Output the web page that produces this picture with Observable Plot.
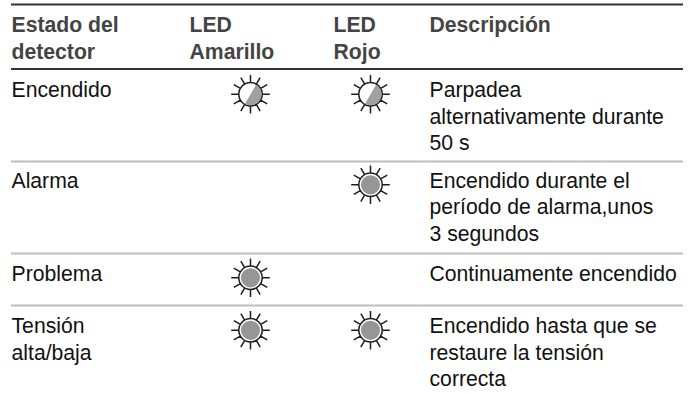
<!DOCTYPE html>
<html><head><meta charset="utf-8">
<script src="https://cdn.jsdelivr.net/npm/d3@7"></script>
<script src="https://cdn.jsdelivr.net/npm/@observablehq/plot@0.6"></script>
<style>html,body{margin:0;padding:0;background:#fff}svg{display:block}</style>
</head><body><div id="c"></div>
<script>
// content
const headerCol0 = ["Estado del", "detector"];
const headerCol1 = ["LED", "Amarillo"];
const headerCol2 = ["LED", "Rojo"];
const headerCol3 = ["Descripción"];
const states = [["Encendido"], ["Alarma"], ["Problema"], ["Tensión", "alta/baja"]];
const descriptions = [
  ["Parpadea", "alternativamente durante", "50 s"],
  ["Encendido durante el", "período de alarma,unos", "3 segundos"],
  ["Continuamente encendido"],
  ["Encendido hasta que se", "restaure la tensión", "correcta"]
];
const yellowLed = ["half", null, "full", "full"];
const redLed = ["half", "full", null, "full"];

// layout scales: named columns and text lines / rules, mapped piecewise
const colNames = ["state", "yellowHead", "yellowLed", "redHead", "redLed", "desc", "end"];
const colPixels = [11, 189, 250, 333, 370, 429, 683];
const rowNames = ["top", "h0", "h1", "headRule", "r0l0", "r0l1", "r0l2", "rule0", "r1l0", "r1l1", "r1l2", "rule1", "r2l0", "rule2", "r3l0", "r3l1", "r3l2"];
const rowPixels = [4, 32, 58.5, 68.5, 97, 123.5, 150, 161, 187.5, 214, 241, 253, 280.5, 305, 333, 359.5, 386];
const c = n => colNames.indexOf(n);
const r = n => rowNames.indexOf(n);

const textRows = [];
const addLines = (lines, col, row, kind) => lines.forEach((t, i) =>
  textRows.push({t, x: c(col), y: r(row) + i, kind}));
addLines(headerCol0, "state", "h0", "head");
addLines(headerCol1, "yellowHead", "h0", "head");
addLines(headerCol2, "redHead", "h0", "head");
addLines(headerCol3, "desc", "h0", "head");
const rowStarts = ["r0l0", "r1l0", "r2l0", "r3l0"];
states.forEach((l, i) => addLines(l, "state", rowStarts[i], "body"));
descriptions.forEach((l, i) => addLines(l, "desc", rowStarts[i], "body"));

const leds = [];
yellowLed.forEach((s, i) => s && leds.push({x: c("yellowLed"), y: r(rowStarts[i]), s}));
redLed.forEach((s, i) => s && leds.push({x: c("redLed"), y: r(rowStarts[i]), s}));

// custom symbols
const sunSymbol = {draw(ctx, size) {
  const R = Math.sqrt(size / Math.PI);
  for (let k = 0; k < 12; k++) {
    const a = k * Math.PI / 6;
    ctx.moveTo(R * Math.cos(a), R * Math.sin(a));
    ctx.lineTo(1.65 * R * Math.cos(a), 1.65 * R * Math.sin(a));
  }
  ctx.moveTo(R, 0);
  ctx.arc(0, 0, R, 0, 2 * Math.PI);
}};
const halfSymbol = {draw(ctx, size) {
  const R = Math.sqrt(size / Math.PI);
  const a = -Math.PI / 3;
  ctx.moveTo(R * Math.cos(a), R * Math.sin(a));
  ctx.arc(0, 0, R, a, a + Math.PI);
  ctx.closePath();
}};

const textStyle = {x: "x", y: "y", text: "t", textAnchor: "start", dy: -6.9, fontSize: 21.2};
const plot = Plot.plot({
  width: 694, height: 394,
  marginTop: 0, marginRight: 0, marginBottom: 0, marginLeft: 0,
  style: {fontFamily: "'Liberation Sans', Arial, sans-serif", background: "#fff"},
  x: {type: "linear", domain: colNames.map((_, i) => i), range: colPixels, axis: null},
  y: {type: "linear", domain: rowNames.map((_, i) => i), range: rowPixels, axis: null},
  marks: [
    Plot.ruleY(["top", "headRule"].map(r), {x1: 0, x2: c("end"), y: d => d, stroke: "#333", strokeWidth: 2}),
    Plot.ruleY(["rule0", "rule1", "rule2"].map(r), {x1: 0, x2: c("end"), y: d => d, stroke: "#bdbdbd", strokeWidth: 2}),
    Plot.text(textRows.filter(d => d.kind === "head"), {...textStyle, fontWeight: "bold", fill: "#444"}),
    Plot.text(textRows.filter(d => d.kind === "body"), {...textStyle, fill: "#111"}),
    Plot.dot(leds, {x: "x", y: "y", dy: -3.2, r: 11.7, symbol: sunSymbol, stroke: "#1c1c1c", strokeWidth: 1.5, fill: "#fff"}),
    Plot.dot(leds.filter(d => d.s === "full"), {x: "x", y: "y", dy: -3.2, r: 9.6, fill: "#969696"}),
    Plot.dot(leds.filter(d => d.s === "half"), {x: "x", y: "y", dy: -3.2, r: 11, symbol: halfSymbol, fill: "#a0a0a0"})
  ]
});
document.getElementById("c").appendChild(plot);
</script>
</body></html>
